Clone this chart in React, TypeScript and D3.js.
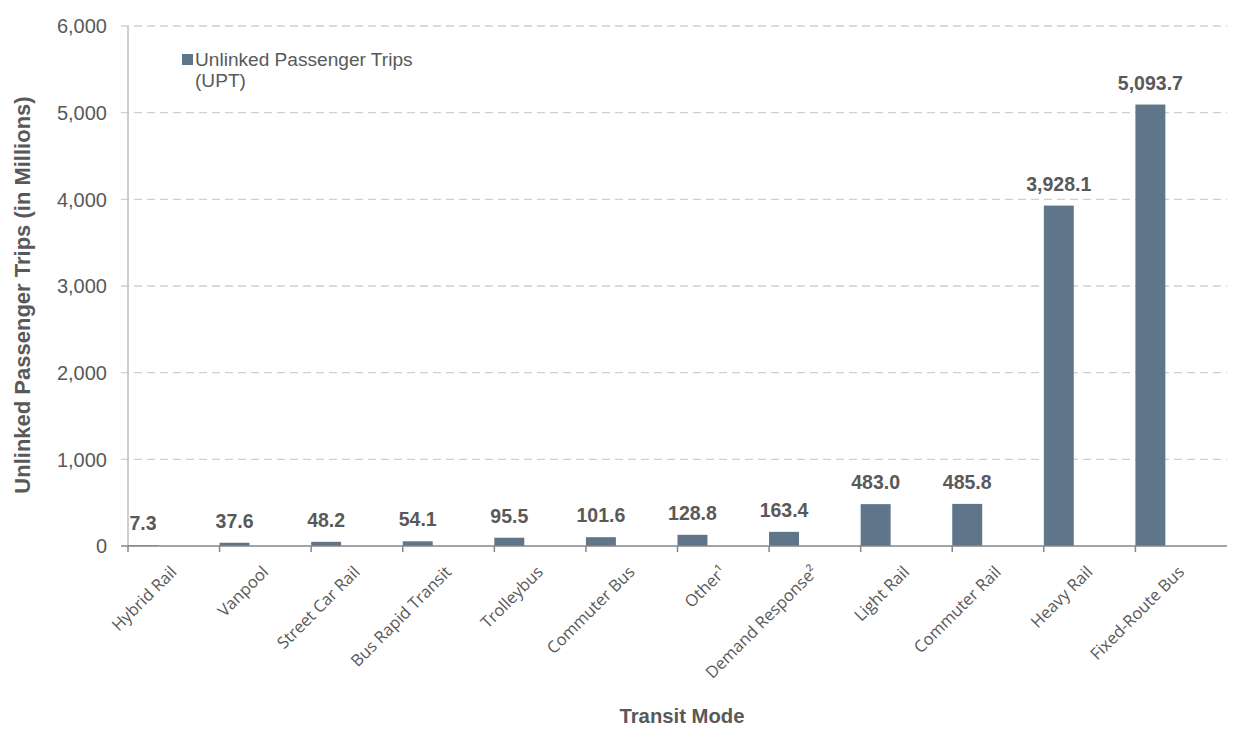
import React from "react";
import * as d3 from "d3";

const categories = [
  "Hybrid Rail",
  "Vanpool",
  "Street Car Rail",
  "Bus Rapid Transit",
  "Trolleybus",
  "Commuter Bus",
  "Other¹",
  "Demand Response²",
  "Light Rail",
  "Commuter Rail",
  "Heavy Rail",
  "Fixed-Route Bus",
];
const upt = [7.3, 37.6, 48.2, 54.1, 95.5, 101.6, 128.8, 163.4, 483.0, 485.8, 3928.1, 5093.7];
const yTicks = [0, 1000, 2000, 3000, 4000, 5000, 6000];
const seriesName = ["Unlinked Passenger Trips", "(UPT)"];

const W = 1237;
const H = 738;
const left = 128;
const right = 1227;
const top = 26;
const bottom = 546;
const barColor = "#5f7589";
const textColor = "#595959";

export default function App() {
  const x = d3.scaleBand<string>().domain(categories).range([left, right]).paddingInner(0).paddingOuter(0);
  const y = d3.scaleLinear().domain([0, 6000]).range([bottom, top]);
  const bw = x.bandwidth() * 0.327;
  const fmtTick = d3.format(",");
  const fmtVal = d3.format(",.1f");
  const sans = "'Liberation Sans', Arial, Helvetica, sans-serif";

  return (
    <svg width={W} height={H} style={{ position: "absolute", left: 0, top: 0, background: "#fff" }}>
      {/* gridlines */}
      {yTicks.filter((t) => t > 0).map((t) => (
        <line key={t} x1={left - 7} x2={right} y1={y(t)} y2={y(t)} stroke="#d0d0d0" strokeWidth={1.3} strokeDasharray="8,5" />
      ))}
      {/* y axis line */}
      <line x1={left} x2={left} y1={top} y2={bottom} stroke="#bfbfbf" strokeWidth={1.5} />
      {/* y tick labels */}
      {yTicks.map((t) => (
        <text key={t} x={107} y={y(t)} dy="0.36em" textAnchor="end" fontFamily={sans} fontSize={20} fill={textColor}>
          {fmtTick(t)}
        </text>
      ))}
      {/* bars */}
      {categories.map((c, i) => (
        <rect key={c} x={x(c)!} y={y(upt[i])} width={bw} height={bottom - y(upt[i])} fill={barColor} />
      ))}
      {/* value labels */}
      {categories.map((c, i) => (
        <text key={c} x={x(c)! + bw / 2} y={y(upt[i]) - 15} textAnchor="middle" fontFamily={sans} fontWeight="bold" fontSize={19.5} fill={textColor}>
          {fmtVal(upt[i])}
        </text>
      ))}
      {/* x axis */}
      <line x1={left - 7} x2={right} y1={bottom} y2={bottom} stroke="#868686" strokeWidth={1.5} />
      {categories.map((c) => (
        <line key={c} x1={x(c)!} x2={x(c)!} y1={bottom} y2={bottom + 6} stroke="#868686" strokeWidth={1.5} />
      ))}
      {categories.map((c) => {
        const cx = x(c)! + x.bandwidth() / 2 + 4;
        const cy = bottom + 27;
        return (
          <text key={c} x={cx} y={cy} textAnchor="end" transform={`rotate(-45 ${cx} ${cy})`} fontFamily="'Open Sans', sans-serif" fontSize={16.5} fill={textColor}>
            {c}
          </text>
        );
      })}
      {/* axis titles */}
      <text x={682} y={723} textAnchor="middle" fontFamily={sans} fontWeight="bold" fontSize={20.3} fill={textColor}>
        Transit Mode
      </text>
      <text transform={`translate(30 295) rotate(-90)`} textAnchor="middle" fontFamily={sans} fontWeight="bold" fontSize={22} fill={textColor}>
        Unlinked Passenger Trips (in Millions)
      </text>
      {/* legend */}
      <rect x={182} y={54} width={11} height={11} fill={barColor} />
      <text x={195} y={66} fontFamily={sans} fontSize={19.1} fill={textColor}>{seriesName[0]}</text>
      <text x={195} y={87} fontFamily={sans} fontSize={19.1} fill={textColor}>{seriesName[1]}</text>
    </svg>
  );
}
